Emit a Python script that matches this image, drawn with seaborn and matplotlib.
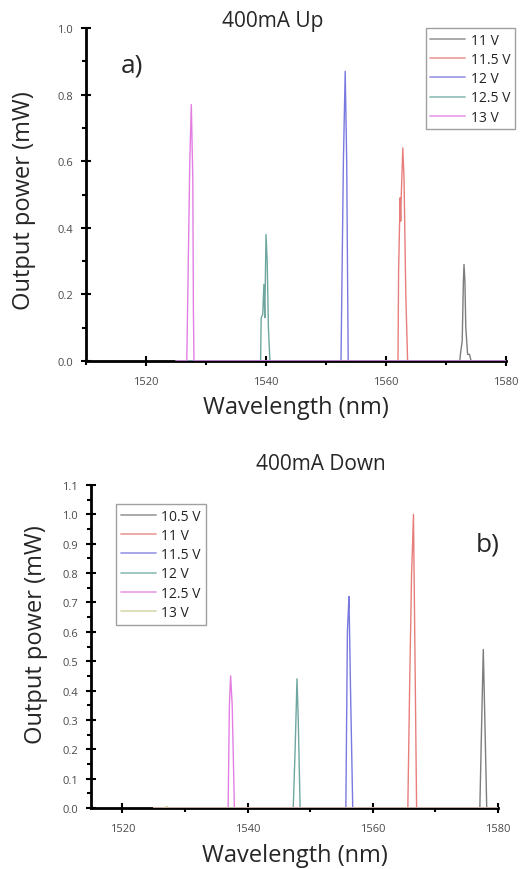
import numpy as np
import pandas as pd
import matplotlib
matplotlib.use("Agg")
import matplotlib.pyplot as plt
import seaborn as sns
from matplotlib.ticker import MultipleLocator, FormatStrFormatter

# ---- data (wavelength in nm, power in mW) ----
up_labels = ["11 V", "11.5 V", "12 V", "12.5 V", "13 V"]
up_11_wl = [1525, 1572.3, 1572.4, 1572.7, 1572.9, 1573.0, 1573.15, 1573.3, 1573.6, 1573.9, 1574.2, 1580]
up_11_p = [0, 0, 0.02, 0.06, 0.24, 0.29, 0.24, 0.10, 0.02, 0.02, 0, 0]
up_115_wl = [1525, 1562.0, 1562.1, 1562.35, 1562.45, 1562.55, 1562.8, 1563.0, 1563.3, 1563.6, 1580]
up_115_p = [0, 0, 0.27, 0.49, 0.42, 0.50, 0.64, 0.55, 0.20, 0, 0]
up_12_wl = [1525, 1552.5, 1552.9, 1553.2, 1553.45, 1553.7, 1580]
up_12_p = [0, 0, 0.60, 0.87, 0.60, 0, 0]
up_125_wl = [1525, 1539.1, 1539.2, 1539.45, 1539.65, 1539.8, 1540.0, 1540.2, 1540.4, 1540.65, 1580]
up_125_p = [0, 0, 0.13, 0.14, 0.23, 0.13, 0.38, 0.30, 0.10, 0, 0]
up_13_wl = [1525, 1526.8, 1527.3, 1527.55, 1527.8, 1527.9, 1528.0, 1580]
up_13_p = [0, 0, 0.60, 0.77, 0.55, 0.15, 0, 0]

down_labels = ["10.5 V", "11 V", "11.5 V", "12 V", "12.5 V", "13 V"]
down_105_wl = [1525, 1577.1, 1577.4, 1577.65, 1577.9, 1578.2, 1580]
down_105_p = [0, 0, 0.30, 0.54, 0.30, 0, 0]
down_11_wl = [1525, 1565.6, 1565.9, 1566.2, 1566.3, 1566.5, 1566.7, 1567.0, 1580]
down_11_p = [0, 0, 0.43, 0.80, 0.86, 1.00, 0.60, 0, 0]
down_115_wl = [1525, 1555.7, 1555.95, 1556.05, 1556.2, 1556.45, 1556.8, 1580]
down_115_p = [0, 0, 0.60, 0.65, 0.72, 0.40, 0, 0]
down_12_wl = [1525, 1547.3, 1547.6, 1547.9, 1548.1, 1548.4, 1580]
down_12_p = [0, 0, 0.20, 0.44, 0.30, 0, 0]
down_125_wl = [1525, 1536.9, 1537.1, 1537.3, 1537.55, 1537.9, 1580]
down_125_p = [0, 0, 0.35, 0.45, 0.35, 0, 0]
down_13_wl = [1525, 1526.8, 1527.1, 1527.4, 1580]
down_13_p = [0, 0, 0.005, 0, 0]

up_colors = ["#6f6f6f", "#e5706e", "#6b6bdc", "#5f9e96", "#e070e0"]
down_colors = ["#6f6f6f", "#e5706e", "#6b6bdc", "#5f9e96", "#e070e0", "#c8c890"]


def build(labels, wls, ps):
    frames = []
    for lab, wl, p in zip(labels, wls, ps):
        frames.append(pd.DataFrame({"wl": wl, "power": p, "series": lab}))
    return pd.concat(frames, ignore_index=True)


df_up = build(up_labels,
              [up_11_wl, up_115_wl, up_12_wl, up_125_wl, up_13_wl],
              [up_11_p, up_115_p, up_12_p, up_125_p, up_13_p])
df_down = build(down_labels,
                [down_105_wl, down_11_wl, down_115_wl, down_12_wl, down_125_wl, down_13_wl],
                [down_105_p, down_11_p, down_115_p, down_12_p, down_125_p, down_13_p])

sns.set_style("white")
plt.rcParams["font.family"] = ["Open Sans", "DejaVu Sans"]

fig = plt.figure(figsize=(5.29, 8.70), dpi=100)
ax1 = fig.add_axes([86 / 529, 1 - 362 / 870, 420 / 529, 333 / 870])
ax2 = fig.add_axes([91 / 529, 1 - 809 / 870, 407 / 529, 323 / 870])


def style_axis(ax, ymajor, yminor):
    for s in ["top", "right"]:
        ax.spines[s].set_visible(False)
    for s in ["left", "bottom"]:
        ax.spines[s].set_linewidth(2)
        ax.spines[s].set_color("black")
        ax.spines[s].set_zorder(1)
    ax.xaxis.set_major_locator(MultipleLocator(20))
    ax.xaxis.set_minor_locator(MultipleLocator(10))
    ax.yaxis.set_major_locator(MultipleLocator(ymajor))
    ax.yaxis.set_minor_locator(MultipleLocator(yminor))
    ax.yaxis.set_major_formatter(FormatStrFormatter("%.1f"))
    ax.tick_params(which="major", direction="inout", length=7, width=1.5,
                   labelsize=8, labelcolor="#4a4a4a", color="black",
                   left=True, bottom=True)
    ax.tick_params(which="minor", direction="out", length=3, width=1.5,
                   color="black", left=True, bottom=True)
    ax.tick_params(axis="x", pad=7)
    ax.tick_params(axis="y", pad=6)


def style_legend(leg):
    leg.get_frame().set_edgecolor("#888888")
    leg.get_frame().set_linewidth(1.0)
    for ln in leg.get_lines():
        ln.set_linewidth(1.3)
        ln.set_alpha(0.65)
    for t in leg.get_texts():
        t.set_color("#222222")


legend_kw = dict(fontsize=10, frameon=True, fancybox=False, handlelength=2.5,
                 borderpad=0.35, labelspacing=0.3, handletextpad=0.4,
                 borderaxespad=0, bbox_transform=fig.transFigure)

# ---- a) 400mA Up ----
sns.lineplot(data=df_up, x="wl", y="power", hue="series", palette=up_colors,
             estimator=None, sort=False, linewidth=1.0, alpha=0.9, ax=ax1)
ax1.set_xlim(1510, 1580)
ax1.set_ylim(0, 1.0)
style_axis(ax1, 0.2, 0.1)
ax1.set_xlabel("Wavelength (nm)", fontsize=17, va="center")
ax1.set_ylabel("Output power (mW)", fontsize=17, va="center")
ax1.xaxis.set_label_coords(0.5, (362 - 408) / 333)
ax1.yaxis.set_label_coords((24 - 86) / 420, (362 - 201) / 333)
fig.text(121 / 529, 1 - 66 / 870, "a)", fontsize=19, va="center", ha="left")
fig.text(273 / 529, 1 - 21 / 870, "400mA Up", fontsize=15, ha="center", va="center")
leg1 = ax1.legend(loc="upper right", bbox_to_anchor=(515 / 529, 1 - 29 / 870), **legend_kw)
style_legend(leg1)

# ---- b) 400mA Down ----
sns.lineplot(data=df_down, x="wl", y="power", hue="series", palette=down_colors,
             estimator=None, sort=False, linewidth=1.0, alpha=0.9, ax=ax2)
ax2.set_xlim(1515, 1580)
ax2.set_ylim(0, 1.1)
style_axis(ax2, 0.1, 0.05)
ax2.set_xlabel("Wavelength (nm)", fontsize=17, va="center")
ax2.set_ylabel("Output power (mW)", fontsize=17, va="center")
ax2.xaxis.set_label_coords(0.5, (809 - 856) / 323)
ax2.yaxis.set_label_coords((36 - 91) / 407, (809 - 635) / 323)
fig.text(476 / 529, 1 - 545 / 870, "b)", fontsize=19, va="center", ha="left")
fig.text(321 / 529, 1 - 465 / 870, "400mA Down", fontsize=15, ha="center", va="center")
leg2 = ax2.legend(loc="upper left", bbox_to_anchor=(116 / 529, 1 - 505 / 870), **legend_kw)
style_legend(leg2)

fig.savefig("out.png", dpi=100)
